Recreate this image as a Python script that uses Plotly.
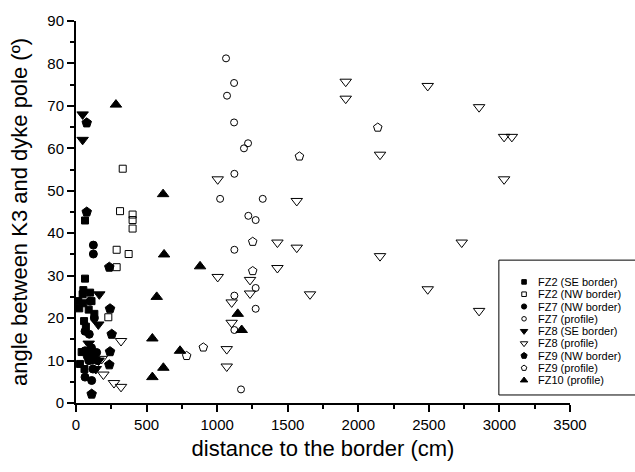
import plotly.graph_objects as go

# FZ2 (SE border) - filled squares
fz2_se_x = [64, 64, 52, 47, 16, 52, 23, 57, 28, 100, 110, 90, 130, 70, 40, 120, 100, 60]
fz2_se_y = [43, 29.3, 26.6, 25.6, 24, 23.5, 22.3, 19.3, 9.2, 26, 24, 22, 21, 18, 12, 11, 10, 8]

# FZ2 (NW border) - open squares
fz2_nw_x = [331, 312, 401, 401, 401, 288, 373, 288, 229]
fz2_nw_y = [55.2, 45.2, 44.4, 43.1, 41.1, 36.1, 35.1, 32.0, 20.2]

# FZ7 (NW border) - filled circles
fz7_nw_x = [123, 123, 64, 94, 64, 146, 64, 111, 100, 130, 90, 120, 150, 80, 110]
fz7_nw_y = [37.2, 35.1, 16.9, 16.2, 12.3, 11.9, 6.1, 5.3, 24, 20, 10, 8, 10, 11, 13]

# FZ7 (profile) - open circles
fz7_pr_x = [1063, 1120, 1070, 1120, 1219, 1190, 1122, 1021, 1323, 1221, 1273,
            1122, 1273, 1122, 1273, 1122, 1169]
fz7_pr_y = [81.2, 75.4, 72.4, 66.1, 61.2, 60, 54.0, 48.1, 48.1, 44.1, 43.1,
            36.1, 27.1, 25.3, 22.2, 17.2, 3.2]

# FZ8 (SE border) - filled down triangles
fz8_se_x = [47, 47, 165, 158, 120, 160, 140, 90]
fz8_se_y = [68, 62, 25.6, 18.5, 12, 10, 8, 14]

# FZ8 (profile) - open down triangles
fz8_pr_x = [1911, 1911, 2492, 2856, 2154, 3033, 3088, 3033, 2733, 2154, 2492, 2856,
            1004, 1564, 1427, 1564, 1427, 1004, 1233, 1233, 1658, 1103, 1103, 1068,
            1068, 319, 194, 269, 319, 182]
fz8_pr_y = [75.7, 71.7, 74.7, 69.7, 58.5, 62.7, 62.7, 52.7, 37.8, 34.6, 26.8, 21.7,
            52.7, 47.6, 37.8, 36.6, 31.8, 29.7, 29.0, 25.8, 25.6, 23.7, 18.9, 12.7,
            8.6, 14.6, 6.7, 4.7, 3.8, 10.4]

# FZ9 (NW border) - filled pentagons
fz9_nw_x = [76, 76, 236, 241, 253, 241, 236, 111]
fz9_nw_y = [66, 45, 32.0, 22.2, 16.2, 12.1, 9.0, 2.1]

# FZ9 (profile) - open pentagons
fz9_pr_x = [2138, 1583, 1252, 1252, 902, 784]
fz9_pr_y = [64.9, 58.1, 38.0, 31.1, 13.1, 11.1]

# FZ10 (profile) - filled up triangles
fz10_x = [283, 617, 624, 572, 541, 737, 619, 541, 879, 1146, 1174]
fz10_y = [70.3, 49.2, 35.0, 25.0, 15.2, 12.3, 8.3, 6.1, 32.2, 21.0, 17.2]

series = [
    ("FZ2 (SE border)", fz2_se_x, fz2_se_y, "square", 7),
    ("FZ2 (NW border)", fz2_nw_x, fz2_nw_y, "square-open", 7),
    ("FZ7 (NW border)", fz7_nw_x, fz7_nw_y, "circle", 8),
    ("FZ7 (profile)", fz7_pr_x, fz7_pr_y, "circle-open", 7),
    ("FZ8 (SE border)", fz8_se_x, fz8_se_y, "triangle-down", 10),
    ("FZ8 (profile)", fz8_pr_x, fz8_pr_y, "triangle-down-open", 10),
    ("FZ9 (NW border)", fz9_nw_x, fz9_nw_y, "pentagon", 10),
    ("FZ9 (profile)", fz9_pr_x, fz9_pr_y, "pentagon-open", 9),
    ("FZ10 (profile)", fz10_x, fz10_y, "triangle-up", 10),
]

FONT = "Liberation Sans, Arial, sans-serif"

fig = go.Figure()
for name, xs, ys, sym, size in series:
    fig.add_trace(go.Scatter(
        x=xs, y=ys, mode="markers", name=name, showlegend=False,
        marker=dict(symbol=sym, size=size, color="black",
                    line=dict(color="black", width=1)),
    ))

# Compact key box in the lower right corner, drawn on a unit overlay axis
# (0..1 spans the plotting area), so rows can be packed tighter than the
# built-in legend allows.
key_left, key_right = 0.856, 1.15
key_bottom, key_top = 0.021, 0.374
row_top, row_step = 0.317, 0.0322
marker_x, text_x = 0.907, 0.931

fig.add_shape(type="rect", xref="paper", yref="paper",
              x0=key_left, x1=key_right, y0=key_bottom, y1=key_top,
              line=dict(color="black", width=1), fillcolor="white", layer="below")

for i, (name, xs, ys, sym, size) in enumerate(series):
    ry = row_top - i * row_step
    fig.add_trace(go.Scatter(
        x=[marker_x], y=[ry], xaxis="x2", yaxis="y2", mode="markers",
        showlegend=False, hoverinfo="skip", cliponaxis=False,
        marker=dict(symbol=sym, size=size * 0.65, color="black",
                    line=dict(color="black", width=1)),
    ))
    fig.add_annotation(x=text_x, y=ry, xref="paper", yref="paper", text=name,
                       showarrow=False, xanchor="left", yanchor="middle",
                       font=dict(family=FONT, size=11, color="black"))

axis_common = dict(
    showline=True, linecolor="black", linewidth=2,
    ticks="outside", tickcolor="black", tickwidth=2, ticklen=7,
    showgrid=False, zeroline=False, mirror=False,
    tickfont=dict(family=FONT, size=15, color="black"),
)

fig.update_layout(
    width=635, height=472,
    margin=dict(l=76, r=65, t=15, b=69),
    paper_bgcolor="white", plot_bgcolor="white",
    font=dict(family=FONT, color="black"),
    showlegend=False,
    xaxis=dict(
        range=[0, 3500], dtick=500, tick0=0,
        minor=dict(ticks="outside", ticklen=4, tickwidth=1.5, tickcolor="black", dtick=250),
        title=dict(text="distance to the border (cm)", font=dict(size=22), standoff=9),
        **axis_common,
    ),
    yaxis=dict(
        range=[0, 90], dtick=10, tick0=0,
        minor=dict(ticks="outside", ticklen=4, tickwidth=1.5, tickcolor="black", dtick=5),
        title=dict(text="angle between K3 and dyke pole (º)", font=dict(size=22), standoff=14),
        **axis_common,
    ),
    xaxis2=dict(range=[0, 1], overlaying="x", visible=False, fixedrange=True),
    yaxis2=dict(range=[0, 1], overlaying="y", visible=False, fixedrange=True),
)

fig.write_html("out.html")
